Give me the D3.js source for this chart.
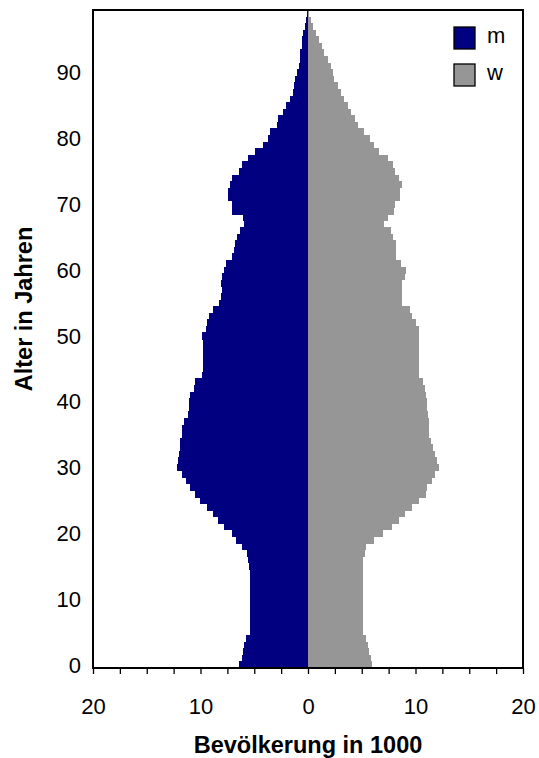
<!DOCTYPE html>
<html><head><meta charset="utf-8">
<script src="https://cdn.jsdelivr.net/npm/d3@7/dist/d3.min.js"></script>
<style>body{margin:0;background:#fff}svg{display:block}text{font-family:"Liberation Sans",Arial,sans-serif}</style>
</head><body>
<script>
const ages = d3.range(0, 100);
const male = [6.4,6.18,6.02,5.93,5.78,5.42,5.4,5.4,5.4,5.4,
5.4,5.4,5.4,5.4,5.42,5.47,5.56,5.68,6.18,6.7,
7.11,7.8,8.35,8.88,9.44,10.03,10.5,10.96,11.37,11.74,
12.17,12.08,11.99,11.95,11.9,11.74,11.68,11.58,11.2,11.06,
11.06,10.96,10.65,10.5,9.9,9.81,9.81,9.81,9.81,9.75,
9.9,9.5,9.35,9.19,8.88,8.26,8.1,8.04,8.1,8.01,
7.86,7.64,7.11,6.86,6.8,6.65,6.3,5.96,6.09,7.11,
7.11,7.42,7.48,7.24,7.11,6.46,6.18,5.62,4.9,4.22,
3.76,3.5,2.92,2.76,2.36,2.05,1.65,1.43,1.27,1.18,
1.0,0.8,0.71,0.71,0.6,0.56,0.43,0.31,0.19,0.1];
const female = [5.96,5.87,5.71,5.56,5.4,5.15,5.12,5.12,5.12,5.12,
5.12,5.12,5.12,5.12,5.12,5.09,5.16,5.34,5.4,6.18,
6.96,7.8,8.42,9.04,9.69,10.28,10.99,11.09,11.52,11.77,
12.14,11.99,11.86,11.62,11.45,11.3,11.3,11.3,11.2,11.09,
11.09,11.0,10.9,10.68,10.37,10.28,10.28,10.28,10.28,10.28,
10.28,10.28,10.06,9.69,9.5,8.76,8.76,8.7,8.7,8.98,
9.13,8.66,8.2,8.2,8.14,7.95,7.73,7.05,7.42,8.04,
8.1,8.6,8.6,8.76,8.42,8.1,7.95,7.48,6.65,6.18,
5.78,5.25,4.66,4.41,4.0,3.7,3.39,3.07,2.76,2.45,
2.3,2.1,1.83,1.52,1.3,1.0,0.75,0.5,0.25,0.12];
const xTickValues = [-20,-10,0,10,20];
const yTickValues = [0,10,20,30,40,50,60,70,80,90];
const legendLabels = ["m","w"];
const colors = {m:"#000080", w:"#969696"};

const W = 539, H = 758;
const L = 93, R = 523, T = 10, B = 668;
const FS = 22, TFS = 23.5;
const svg = d3.select("body").append("svg").attr("width", W).attr("height", H);

const x = d3.scaleLinear().domain([-20, 20]).range([L, R]);
const y = d3.scaleBand().domain(ages).range([B, T]).padding(0);

svg.append("g").attr("shape-rendering", "crispEdges").selectAll("rect").data(ages).join("rect")
  .attr("x", d => x(-male[d])).attr("width", d => x(0) - x(-male[d]))
  .attr("y", d => y(d)).attr("height", y.bandwidth() + 0.6)
  .attr("fill", colors.m);
svg.append("g").attr("shape-rendering", "crispEdges").selectAll("rect").data(ages).join("rect")
  .attr("x", x(0)).attr("width", d => x(female[d]) - x(0))
  .attr("y", d => y(d)).attr("height", y.bandwidth() + 0.6)
  .attr("fill", colors.w);

// frame
svg.append("rect").attr("x", L).attr("y", T).attr("width", R - L).attr("height", B - T)
  .attr("fill", "none").attr("stroke", "#000").attr("stroke-width", 2);

// x axis ticks
const xAxis = d3.axisBottom(x).tickValues(d3.range(-20, 20.01, 2.5)).tickSize(6)
  .tickFormat(d => xTickValues.includes(d) ? String(Math.abs(d)) : "");
const gx = svg.append("g").attr("transform", `translate(0,${B})`).call(xAxis);
gx.select(".domain").remove();
gx.selectAll("line").attr("stroke", "#000").attr("stroke-width", 1.3);
gx.selectAll("text").attr("font-size", FS).attr("fill", "#000").attr("dy", null).attr("y", 46);

// y axis labels
const yAxis = d3.axisLeft(y).tickValues(yTickValues).tickSize(0).tickPadding(12);
const gy = svg.append("g").attr("transform", `translate(${L},0)`).call(yAxis);
gy.select(".domain").remove();
gy.selectAll("text").attr("font-size", FS).attr("fill", "#000").attr("dy", "0.36em");

// axis titles
svg.append("text").attr("x", x(0)).attr("y", 753).attr("text-anchor", "middle")
  .attr("font-size", TFS).attr("font-weight", "bold").text("Bevölkerung in 1000");
svg.append("text").attr("transform", `translate(32,309) rotate(-90)`)
  .attr("text-anchor", "middle").attr("font-size", TFS).attr("font-weight", "bold").text("Alter in Jahren");

// legend
const lg = svg.append("g");
legendLabels.forEach((k, i) => {
  const yy = 27 + i * 37;
  lg.append("rect").attr("x", 454).attr("y", yy).attr("width", 21).attr("height", 22)
    .attr("fill", colors[k]).attr("stroke", "#000").attr("stroke-width", 1.3);
  lg.append("text").attr("x", 487).attr("y", yy + 16).attr("font-size", FS).text(k);
});
</script>
</body></html>
